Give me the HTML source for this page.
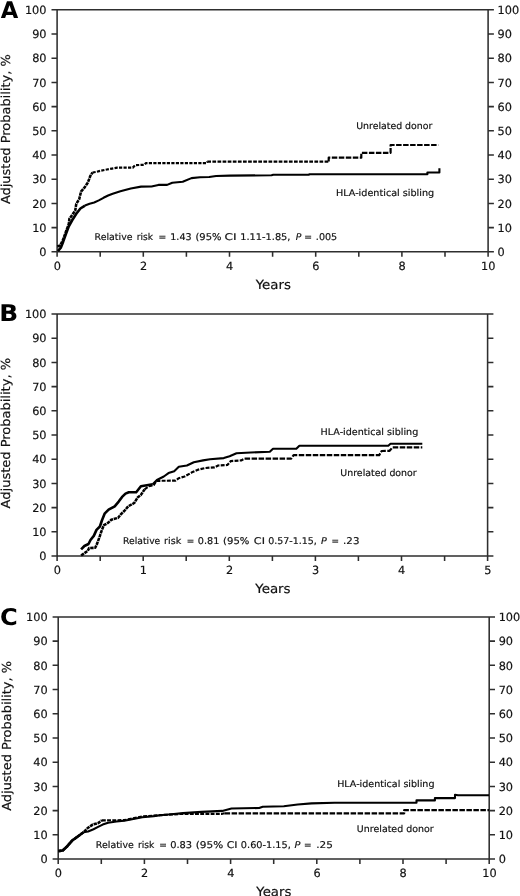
<!DOCTYPE html>
<html lang="en">
<head>
<meta charset="utf-8">
<title>Adjusted probability curves</title>
<style>
html,body{margin:0;padding:0;background:#fff;}
body{width:520px;height:896px;overflow:hidden;}
svg{display:block;font-family:"DejaVu Sans", "Liberation Sans", sans-serif;}
</style>
</head>
<body>
<svg width="520" height="896" viewBox="0 0 520 896" text-rendering="geometricPrecision">
<rect width="520" height="896" fill="#fff"/>
<g stroke="#2e2e2e" stroke-width="1.55" fill="none">
<path d="M57.1 9.2V256.8M488.1 9.2V256.8M51.5 9.8H493.9M51.5 251.8H493.9M51.5 227.6H57.1M488.1 227.6H493.9M51.5 203.4H57.1M488.1 203.4H493.9M51.5 179.2H57.1M488.1 179.2H493.9M51.5 155.0H57.1M488.1 155.0H493.9M51.5 130.8H57.1M488.1 130.8H493.9M51.5 106.6H57.1M488.1 106.6H493.9M51.5 82.4H57.1M488.1 82.4H493.9M51.5 58.2H57.1M488.1 58.2H493.9M51.5 34.0H57.1M488.1 34.0H493.9M100.2 251.8V256.8M143.3 251.8V256.8M186.4 251.8V256.8M229.5 251.8V256.8M272.6 251.8V256.8M315.7 251.8V256.8M358.8 251.8V256.8M401.9 251.8V256.8M445.0 251.8V256.8"/>
</g>
<g font-size="11.3" fill="#111" stroke="#111" stroke-width="0.18">
<text x="46.5" y="256.0" text-anchor="end">0</text>
<text x="497.6" y="256.0">0</text>
<text x="46.5" y="231.8" text-anchor="end">10</text>
<text x="497.6" y="231.8">10</text>
<text x="46.5" y="207.6" text-anchor="end">20</text>
<text x="497.6" y="207.6">20</text>
<text x="46.5" y="183.4" text-anchor="end">30</text>
<text x="497.6" y="183.4">30</text>
<text x="46.5" y="159.2" text-anchor="end">40</text>
<text x="497.6" y="159.2">40</text>
<text x="46.5" y="135.0" text-anchor="end">50</text>
<text x="497.6" y="135.0">50</text>
<text x="46.5" y="110.8" text-anchor="end">60</text>
<text x="497.6" y="110.8">60</text>
<text x="46.5" y="86.6" text-anchor="end">70</text>
<text x="497.6" y="86.6">70</text>
<text x="46.5" y="62.4" text-anchor="end">80</text>
<text x="497.6" y="62.4">80</text>
<text x="46.5" y="38.2" text-anchor="end">90</text>
<text x="497.6" y="38.2">90</text>
<text x="46.5" y="14.0" text-anchor="end">100</text>
<text x="497.6" y="14.0">100</text>
<text x="57.3" y="270.2" text-anchor="middle">0</text>
<text x="143.5" y="270.2" text-anchor="middle">2</text>
<text x="229.7" y="270.2" text-anchor="middle">4</text>
<text x="315.9" y="270.2" text-anchor="middle">6</text>
<text x="402.1" y="270.2" text-anchor="middle">8</text>
<text x="488.3" y="270.2" text-anchor="middle">10</text>
</g>
<g fill="#111" stroke="#111" stroke-width="0.18">
<text x="255.72" y="288.9" font-size="12.6" textLength="35.20" lengthAdjust="spacingAndGlyphs">Years</text>
<text transform="translate(9.9 204.10) rotate(-90)" font-size="12.4" textLength="149.81" lengthAdjust="spacingAndGlyphs">Adjusted Probability, %</text>
<text x="94.59" y="240.0" font-size="9.3" textLength="37.91" lengthAdjust="spacingAndGlyphs">Relative</text>
<text x="136.78" y="240.0" font-size="9.3" textLength="16.25" lengthAdjust="spacingAndGlyphs">risk</text>
<text x="158.42" y="240.0" font-size="9.3" textLength="7.76" lengthAdjust="spacingAndGlyphs">=</text>
<text x="170.25" y="240.0" font-size="9.3" textLength="21.32" lengthAdjust="spacingAndGlyphs">1.43</text>
<text x="195.44" y="240.0" font-size="9.3" textLength="26.00" lengthAdjust="spacingAndGlyphs">(95%</text>
<text x="224.52" y="240.0" font-size="9.3" textLength="12.08" lengthAdjust="spacingAndGlyphs">CI</text>
<text x="240.22" y="240.0" font-size="9.3" textLength="50.23" lengthAdjust="spacingAndGlyphs">1.11-1.85,</text>
<text x="295.65" y="240.0" font-size="9.3" font-style="italic" textLength="5.57" lengthAdjust="spacingAndGlyphs">P</text>
<text x="304.32" y="240.0" font-size="9.3" textLength="7.76" lengthAdjust="spacingAndGlyphs">=</text>
<text x="315.87" y="240.0" font-size="9.3" textLength="21.36" lengthAdjust="spacingAndGlyphs">.005</text>
<text x="356.19" y="128.9" font-size="9.3" textLength="76.11" lengthAdjust="spacingAndGlyphs">Unrelated donor</text>
<text x="335.96" y="195.9" font-size="9.3" textLength="98.22" lengthAdjust="spacingAndGlyphs">HLA-identical sibling</text>
</g>
<text x="0.69" y="17.7" font-size="23" textLength="17.52" lengthAdjust="spacingAndGlyphs" font-weight="bold" fill="#000">A</text>
<path d="M57.9 251.2 L60.8 247.7 L63.1 241.9 L66.0 233.8 L68.8 226.3 L72.3 220.0 L76.3 213.7 L80.4 208.5 L85.0 205.6" fill="none" stroke="#000" stroke-width="2.6" stroke-linejoin="round"/>
<path d="M85.0 205.6 L89.6 203.8 L94.2 202.5 L98.8 200.4 L103.5 197.8 L108.1 195.5 L112.7 193.7 L120.4 191.3 L130.8 188.5 L141.1 186.6 L151.5 186.5 L158.4 184.9 L167.1 184.9 L172.3 182.7 L182.7 181.8 L191.5 178.1 L200.0 177.2 L209.2 177.0 L216.1 176.0 L230.0 175.6 L271.5 175.3 L273.3 174.7 L308.7 174.7 L309.5 174.3 L427.4 174.3 L427.4 172.5 L439.4 172.5 L439.4 168.2" fill="none" stroke="#000" stroke-width="2.1" stroke-linejoin="round"/>
<path d="M57.3 246.5 L60.2 245.4 L63.1 239.6 L66.0 231.5 L68.8 224.0 L69.4 218.8 L72.3 214.8 L75.2 210.8 L76.3 203.8 L79.2 199.2 L81.0 191.7 L84.4 187.7 L87.9 182.5 L90.2 176.2 L92.5 172.5" fill="none" stroke="#000" stroke-width="2.55" stroke-dasharray="3.4 0.7" stroke-linejoin="round"/>
<path d="M92.5 172.5 L96.5 171.9 L101.2 170.6 L106.9 169.5 L112.0 168.6 L117.3 167.7 L132.8 167.6 L135.2 165.2 L144.3 164.8 L146.0 163.1 L206.6 163.1 L207.3 161.6" fill="none" stroke="#000" stroke-width="2.2" stroke-dasharray="3.2 1.3" stroke-linejoin="round"/>
<path d="M207.3 161.6 L328.7 161.6" fill="none" stroke="#000" stroke-width="2.2" stroke-dasharray="3.7 1.4" stroke-linejoin="round"/>
<path d="M328.7 161.6 L328.7 157.7 L361.3 157.7 L361.3 152.8 L390.6 152.8 L390.6 145.0 L438.3 145.0" fill="none" stroke="#000" stroke-width="2.2" stroke-dasharray="5.5 1.5" stroke-linejoin="round"/>
<g stroke="#2e2e2e" stroke-width="1.55" fill="none">
<path d="M57.1 313.4V561.0M487.6 313.4V561.0M51.5 314.0H493.4M51.5 556.0H493.4M51.5 531.8H57.1M487.6 531.8H493.4M51.5 507.6H57.1M487.6 507.6H493.4M51.5 483.4H57.1M487.6 483.4H493.4M51.5 459.2H57.1M487.6 459.2H493.4M51.5 435.0H57.1M487.6 435.0H493.4M51.5 410.8H57.1M487.6 410.8H493.4M51.5 386.6H57.1M487.6 386.6H493.4M51.5 362.4H57.1M487.6 362.4H493.4M51.5 338.2H57.1M487.6 338.2H493.4M100.2 556.0V561.0M143.2 556.0V561.0M186.2 556.0V561.0M229.3 556.0V561.0M272.4 556.0V561.0M315.4 556.0V561.0M358.4 556.0V561.0M401.5 556.0V561.0M444.6 556.0V561.0"/>
</g>
<g font-size="11.3" fill="#111" stroke="#111" stroke-width="0.18">
<text x="46.5" y="560.2" text-anchor="end">0</text>
<text x="46.5" y="536.0" text-anchor="end">10</text>
<text x="46.5" y="511.8" text-anchor="end">20</text>
<text x="46.5" y="487.6" text-anchor="end">30</text>
<text x="46.5" y="463.4" text-anchor="end">40</text>
<text x="46.5" y="439.2" text-anchor="end">50</text>
<text x="46.5" y="415.0" text-anchor="end">60</text>
<text x="46.5" y="390.8" text-anchor="end">70</text>
<text x="46.5" y="366.6" text-anchor="end">80</text>
<text x="46.5" y="342.4" text-anchor="end">90</text>
<text x="46.5" y="318.2" text-anchor="end">100</text>
<text x="57.3" y="574.4" text-anchor="middle">0</text>
<text x="143.4" y="574.4" text-anchor="middle">1</text>
<text x="229.5" y="574.4" text-anchor="middle">2</text>
<text x="315.6" y="574.4" text-anchor="middle">3</text>
<text x="401.7" y="574.4" text-anchor="middle">4</text>
<text x="487.8" y="574.4" text-anchor="middle">5</text>
</g>
<g fill="#111" stroke="#111" stroke-width="0.18">
<text x="255.22" y="592.6" font-size="12.6" textLength="35.40" lengthAdjust="spacingAndGlyphs">Years</text>
<text transform="translate(9.7 508.40) rotate(-90)" font-size="12.4" textLength="150.42" lengthAdjust="spacingAndGlyphs">Adjusted Probability, %</text>
<text x="123.11" y="544.4" font-size="9.3" textLength="37.18" lengthAdjust="spacingAndGlyphs">Relative</text>
<text x="164.13" y="544.4" font-size="9.3" textLength="17.10" lengthAdjust="spacingAndGlyphs">risk</text>
<text x="186.65" y="544.4" font-size="9.3" textLength="7.50" lengthAdjust="spacingAndGlyphs">=</text>
<text x="197.76" y="544.4" font-size="9.3" textLength="21.53" lengthAdjust="spacingAndGlyphs">0.81</text>
<text x="223.13" y="544.4" font-size="9.3" textLength="26.32" lengthAdjust="spacingAndGlyphs">(95%</text>
<text x="253.87" y="544.4" font-size="9.3" textLength="11.13" lengthAdjust="spacingAndGlyphs">CI</text>
<text x="268.28" y="544.4" font-size="9.3" textLength="48.55" lengthAdjust="spacingAndGlyphs">0.57-1.15,</text>
<text x="321.14" y="544.4" font-size="9.3" font-style="italic" textLength="5.78" lengthAdjust="spacingAndGlyphs">P</text>
<text x="331.45" y="544.4" font-size="9.3" textLength="7.50" lengthAdjust="spacingAndGlyphs">=</text>
<text x="343.10" y="544.4" font-size="9.3" textLength="16.32" lengthAdjust="spacingAndGlyphs">.23</text>
<text x="320.56" y="434.6" font-size="9.3" textLength="97.71" lengthAdjust="spacingAndGlyphs">HLA-identical sibling</text>
<text x="340.39" y="475.5" font-size="9.3" textLength="76.31" lengthAdjust="spacingAndGlyphs">Unrelated donor</text>
</g>
<text x="-0.88" y="321.3" font-size="23" textLength="18.93" lengthAdjust="spacingAndGlyphs" font-weight="bold" fill="#000">B</text>
<path d="M81.1 549.4 L84.4 546.0 L88.5 544.0 L90.5 540.0 L93.8 535.9 L96.5 529.9 L99.9 526.5 L101.9 520.5 L104.6 513.7 L108.6 509.7 L114.7 506.3 L118.7 501.6 L122.1 496.9 L125.5 493.6 L128.8 492.2 L136.2 492.2 L140.9 486.2 L146.9 485.2 L152.7 484.2" fill="none" stroke="#000" stroke-width="2.6" stroke-linejoin="round"/>
<path d="M152.7 484.2 L156.9 480.0 L163.8 476.5 L168.5 473.1 L174.2 471.2 L178.8 466.8 L186.9 465.5 L193.8 462.2 L203.1 460.4 L210.0 459.2 L223.8 458.1 L229.6 456.2 L236.5 453.3 L250.8 452.5 L269.8 451.8 L273.0 448.8 L296.3 448.8 L299.4 445.7 L388.3 445.7 L390.5 443.8 L422.3 443.8" fill="none" stroke="#000" stroke-width="2.1" stroke-linejoin="round"/>
<path d="M81.1 555.5 L83.1 554.1 L87.8 550.8 L89.1 548.1 L95.2 547.8 L97.2 543.4 L99.9 535.9 L101.9 529.9 L103.9 525.2 L108.0 522.9 L111.3 519.8 L118.1 517.8 L120.8 514.4 L124.8 510.4 L128.2 506.3 L134.2 503.0 L137.6 497.6 L140.9 494.9 L144.5 489.5" fill="none" stroke="#000" stroke-width="2.55" stroke-dasharray="3.4 0.7" stroke-linejoin="round"/>
<path d="M144.5 489.5 L148.8 486.2 L153.7 485.2 L156.5 480.8 L175.4 480.7 L178.8 478.2 L184.6 476.5 L191.5 472.6 L198.5 469.6 L205.4 468.0 L214.6 467.3 L218.1 465.5 L227.3 465.0 L230.8 461.1 L241.2 460.4 L244.6 458.7" fill="none" stroke="#000" stroke-width="2.2" stroke-dasharray="3.9 1.3" stroke-linejoin="round"/>
<path d="M244.6 458.7 L291.2 458.7 L293.6 455.2 L379.2 455.2 L381.6 451.0 L389.6 450.8 L392.5 447.4 L422.3 447.4" fill="none" stroke="#000" stroke-width="2.2" stroke-dasharray="5.5 1.5" stroke-linejoin="round"/>
<g stroke="#2e2e2e" stroke-width="1.55" fill="none">
<path d="M58.2 616.3V864.0M489.2 616.3V864.0M52.6 616.9H495.0M52.6 859.0H495.0M52.6 834.8H58.2M489.2 834.8H495.0M52.6 810.6H58.2M489.2 810.6H495.0M52.6 786.4H58.2M489.2 786.4H495.0M52.6 762.2H58.2M489.2 762.2H495.0M52.6 738.0H58.2M489.2 738.0H495.0M52.6 713.7H58.2M489.2 713.7H495.0M52.6 689.5H58.2M489.2 689.5H495.0M52.6 665.3H58.2M489.2 665.3H495.0M52.6 641.1H58.2M489.2 641.1H495.0M101.3 859.0V864.0M144.4 859.0V864.0M187.5 859.0V864.0M230.6 859.0V864.0M273.7 859.0V864.0M316.8 859.0V864.0M359.9 859.0V864.0M403.0 859.0V864.0M446.1 859.0V864.0"/>
</g>
<g font-size="11.3" fill="#111" stroke="#111" stroke-width="0.18">
<text x="47.6" y="863.2" text-anchor="end">0</text>
<text x="498.7" y="863.2">0</text>
<text x="47.6" y="839.0" text-anchor="end">10</text>
<text x="498.7" y="839.0">10</text>
<text x="47.6" y="814.8" text-anchor="end">20</text>
<text x="498.7" y="814.8">20</text>
<text x="47.6" y="790.6" text-anchor="end">30</text>
<text x="498.7" y="790.6">30</text>
<text x="47.6" y="766.4" text-anchor="end">40</text>
<text x="498.7" y="766.4">40</text>
<text x="47.6" y="742.2" text-anchor="end">50</text>
<text x="498.7" y="742.2">50</text>
<text x="47.6" y="717.9" text-anchor="end">60</text>
<text x="498.7" y="717.9">60</text>
<text x="47.6" y="693.7" text-anchor="end">70</text>
<text x="498.7" y="693.7">70</text>
<text x="47.6" y="669.5" text-anchor="end">80</text>
<text x="498.7" y="669.5">80</text>
<text x="47.6" y="645.3" text-anchor="end">90</text>
<text x="498.7" y="645.3">90</text>
<text x="47.6" y="621.1" text-anchor="end">100</text>
<text x="498.7" y="621.1">100</text>
<text x="58.4" y="877.4" text-anchor="middle">0</text>
<text x="144.6" y="877.4" text-anchor="middle">2</text>
<text x="230.8" y="877.4" text-anchor="middle">4</text>
<text x="317.0" y="877.4" text-anchor="middle">6</text>
<text x="403.2" y="877.4" text-anchor="middle">8</text>
<text x="489.4" y="877.4" text-anchor="middle">10</text>
</g>
<g fill="#111" stroke="#111" stroke-width="0.18">
<text x="256.32" y="895.6" font-size="12.6" textLength="35.09" lengthAdjust="spacingAndGlyphs">Years</text>
<text transform="translate(10.6 810.80) rotate(-90)" font-size="12.4" textLength="149.81" lengthAdjust="spacingAndGlyphs">Adjusted Probability, %</text>
<text x="95.89" y="847.5" font-size="9.3" textLength="37.91" lengthAdjust="spacingAndGlyphs">Relative</text>
<text x="138.08" y="847.5" font-size="9.3" textLength="16.25" lengthAdjust="spacingAndGlyphs">risk</text>
<text x="159.24" y="847.5" font-size="9.3" textLength="7.63" lengthAdjust="spacingAndGlyphs">=</text>
<text x="170.15" y="847.5" font-size="9.3" textLength="21.94" lengthAdjust="spacingAndGlyphs">0.83</text>
<text x="195.70" y="847.5" font-size="9.3" textLength="27.48" lengthAdjust="spacingAndGlyphs">(95%</text>
<text x="226.68" y="847.5" font-size="9.3" textLength="10.89" lengthAdjust="spacingAndGlyphs">CI</text>
<text x="240.86" y="847.5" font-size="9.3" textLength="49.89" lengthAdjust="spacingAndGlyphs">0.60-1.15,</text>
<text x="294.54" y="847.5" font-size="9.3" font-style="italic" textLength="5.88" lengthAdjust="spacingAndGlyphs">P</text>
<text x="304.05" y="847.5" font-size="9.3" textLength="7.50" lengthAdjust="spacingAndGlyphs">=</text>
<text x="316.18" y="847.5" font-size="9.3" textLength="16.63" lengthAdjust="spacingAndGlyphs">.25</text>
<text x="337.16" y="787.0" font-size="9.3" textLength="97.30" lengthAdjust="spacingAndGlyphs">HLA-identical sibling</text>
<text x="356.88" y="831.5" font-size="9.3" textLength="76.72" lengthAdjust="spacingAndGlyphs">Unrelated donor</text>
</g>
<text x="-0.10" y="625.4" font-size="23" textLength="17.75" lengthAdjust="spacingAndGlyphs" font-weight="bold" fill="#000">C</text>
<path d="M58.4 851.1 L62.7 850.5 L67.3 846.2 L71.9 840.8 L78.1 836.2 L83.5 832.3" fill="none" stroke="#000" stroke-width="2.6" stroke-linejoin="round"/>
<path d="M83.5 832.3 L88.1 831.5 L93.5 829.2 L98.1 826.9 L102.7 824.6 L108.1 822.8 L116.5 821.5 L124.2 820.8 L130.8 819.5 L142.3 817.2 L153.8 816.1 L160.0 815.3 L171.5 814.2 L183.0 813.1 L201.5 811.9 L222.3 810.9 L231.5 808.5 L259.2 808.0 L262.7 806.8 L283.8 806.2 L297.7 804.5 L311.5 803.4 L334.6 802.7 L416.5 802.7 L416.5 800.4 L434.9 800.4 L434.9 798.1 L455.0 798.1 L455.0 794.8 L458.0 795.3 L489.0 795.3" fill="none" stroke="#000" stroke-width="2.1" stroke-linejoin="round"/>
<path d="M58.4 851.1 L62.7 850.5 L67.3 846.2 L71.9 840.8 L78.1 836.2 L83.5 832.3 L88.1 827.7 L92.7 824.6 L98.1 823.1 L101.9 820.3" fill="none" stroke="#000" stroke-width="2.55" stroke-dasharray="3.4 0.7" stroke-linejoin="round"/>
<path d="M101.9 820.3 L124.2 820.2 L130.8 818.8 L142.3 816.5 L160.0 815.2 L183.0 813.8 L222.3 813.8 L224.6 813.3" fill="none" stroke="#000" stroke-width="2.2" stroke-dasharray="3.9 1.3" stroke-linejoin="round"/>
<path d="M224.6 813.3 L404.2 813.3 L404.2 810.1 L489.0 810.1" fill="none" stroke="#000" stroke-width="2.2" stroke-dasharray="5.5 1.5" stroke-linejoin="round"/>
</svg>
</body>
</html>
